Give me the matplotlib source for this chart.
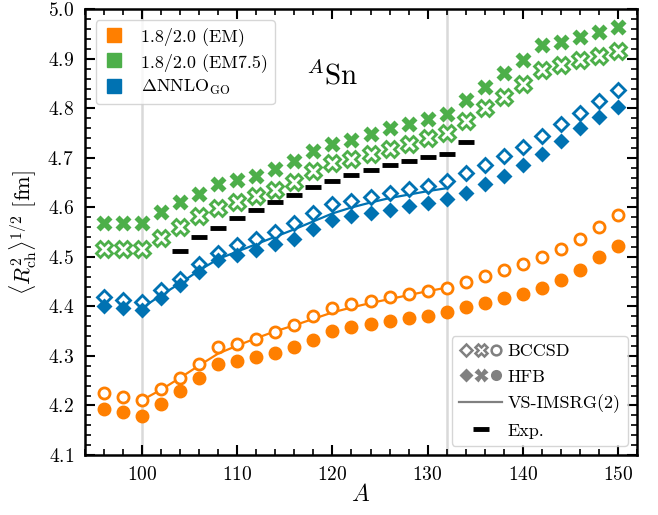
import matplotlib
matplotlib.use("Agg")
from matplotlib import pyplot as plt
from matplotlib.lines import Line2D
from matplotlib.legend_handler import HandlerTuple
from matplotlib.ticker import MultipleLocator

plt.rcParams['font.family'] = 'cmr10'
plt.rcParams['mathtext.fontset'] = 'cm'
plt.rcParams['axes.formatter.use_mathtext'] = True

A = [96, 98, 100, 102, 104, 106, 108, 110, 112, 114, 116, 118, 120, 122,
     124, 126, 128, 130, 132, 134, 136, 138, 140, 142, 144, 146, 148, 150]

em_bccsd = [4.225, 4.218, 4.211, 4.233, 4.256, 4.283, 4.318, 4.324, 4.334, 4.348,
            4.362, 4.380, 4.396, 4.405, 4.412, 4.420, 4.425, 4.431, 4.438, 4.449,
            4.462, 4.474, 4.486, 4.500, 4.516, 4.536, 4.560, 4.584]
em_hfb = [4.193, 4.186, 4.179, 4.204, 4.229, 4.255, 4.284, 4.290, 4.298, 4.307,
          4.318, 4.333, 4.350, 4.359, 4.365, 4.371, 4.376, 4.381, 4.388, 4.398,
          4.407, 4.417, 4.426, 4.438, 4.453, 4.474, 4.499, 4.523]
em75_bccsd = [4.516, 4.516, 4.516, 4.538, 4.561, 4.583, 4.598, 4.612, 4.623, 4.636,
              4.652, 4.674, 4.690, 4.698, 4.709, 4.719, 4.729, 4.740, 4.750, 4.775,
              4.800, 4.824, 4.850, 4.878, 4.887, 4.898, 4.906, 4.917]
em75_hfb = [4.568, 4.568, 4.568, 4.590, 4.611, 4.628, 4.647, 4.655, 4.664, 4.677,
            4.693, 4.714, 4.729, 4.737, 4.749, 4.760, 4.769, 4.778, 4.788, 4.817,
            4.843, 4.871, 4.898, 4.928, 4.935, 4.945, 4.955, 4.965]
go_bccsd = [4.419, 4.413, 4.410, 4.433, 4.456, 4.485, 4.509, 4.524, 4.536, 4.551,
            4.568, 4.588, 4.607, 4.614, 4.622, 4.629, 4.637, 4.643, 4.653, 4.670,
            4.686, 4.703, 4.722, 4.745, 4.768, 4.790, 4.815, 4.837]
go_hfb = [4.402, 4.396, 4.393, 4.418, 4.443, 4.469, 4.494, 4.504, 4.514, 4.526,
          4.537, 4.556, 4.574, 4.582, 4.588, 4.595, 4.603, 4.610, 4.617, 4.630,
          4.647, 4.664, 4.686, 4.708, 4.735, 4.760, 4.782, 4.802]

A_vs = [100, 102, 104, 106, 108, 110, 112, 114, 116, 118, 120, 122, 124, 126, 128, 130, 132]
em_vs = [4.211, 4.232, 4.256, 4.281, 4.305, 4.321, 4.336, 4.350, 4.362, 4.375,
         4.388, 4.398, 4.407, 4.415, 4.423, 4.431, 4.438]
go_vs = [4.397, 4.423, 4.447, 4.473, 4.496, 4.511, 4.526, 4.541, 4.556, 4.572,
         4.588, 4.600, 4.610, 4.619, 4.626, 4.633, 4.639]

A_exp = [104, 106, 108, 110, 112, 114, 116, 118, 120, 122, 124, 126, 128, 130, 132, 134]
exp = [4.513, 4.540, 4.559, 4.578, 4.594, 4.611, 4.626, 4.642, 4.654, 4.665,
       4.676, 4.685, 4.694, 4.701, 4.709, 4.732]

c_em = '#ff7f00'
c_em75 = '#4daf4a'
c_go = '#0072b2'
grey = '#808080'

fig = plt.figure(figsize=(6.58, 5.15), dpi=100)
ax = fig.add_axes([0.1292, 0.1165, 0.8389, 0.8651])

ax.axvline(100, color='#d9d9d9', lw=1.8, zorder=0)
ax.axvline(132, color='#d9d9d9', lw=1.8, zorder=0)

ms = 8
mew = 2
ax.plot(A_vs, em_vs, '-', color=c_em, lw=1.6, zorder=2)
ax.plot(A_vs, go_vs, '-', color=c_go, lw=1.6, zorder=2)

ax.plot(A, em_bccsd, 'o', ls='none', ms=ms, mfc='white', mec=c_em, mew=mew, zorder=3)
ax.plot(A, em_hfb, 'o', ls='none', ms=ms + 1, color=c_em, zorder=4)
ax.plot(A, em75_bccsd, 'X', ls='none', ms=ms + 3, mfc='white', mec=c_em75, mew=mew, zorder=3)
ax.plot(A, em75_hfb, 'X', ls='none', ms=ms + 4, color=c_em75, mec='none', zorder=4)
ax.plot(A, go_bccsd, 'D', ls='none', ms=ms - 1, mfc='white', mec=c_go, mew=mew, zorder=3)
ax.plot(A, go_hfb, 'D', ls='none', ms=ms, color=c_go, mec='none', zorder=4)

ax.plot(A_exp, exp, '_', ls='none', color='black', ms=12, mew=3.5, zorder=5)

ax.set_xlim(94, 152)
ax.set_ylim(4.1, 5.0)
ax.xaxis.set_major_locator(MultipleLocator(10))
ax.xaxis.set_minor_locator(MultipleLocator(2))
ax.yaxis.set_major_locator(MultipleLocator(0.1))
ax.yaxis.set_minor_locator(MultipleLocator(0.02))
ax.tick_params(which='both', direction='in', top=True, right=True, labelsize=14)
ax.tick_params(which='major', length=7, width=1.5, pad=8)
ax.tick_params(which='minor', length=4, width=1.2)
for sp in ax.spines.values():
    sp.set_linewidth(1.8)

ax.set_xlabel(r'$A$', fontsize=17, labelpad=0)
ax.set_ylabel(r'$\langle R^2_{\rm ch}\rangle^{1/2}$ [fm]', fontsize=16, labelpad=6)

ax.text(117.2, 4.866, r'$^{A}\mathrm{Sn}$', fontsize=21, ha='left', va='center')

h1 = [Line2D([], [], marker='s', ls='none', color=c, ms=10) for c in (c_em, c_em75, c_go)]
leg1 = ax.legend(h1, ['1.8/2.0 (EM)', '1.8/2.0 (EM7.5)', r'$\Delta$NNLO$_{\rm GO}$'],
                 loc='upper left', fontsize=13, handlelength=1.2, handletextpad=0.9,
                 borderaxespad=0.6, labelspacing=0.35, framealpha=0.8)
ax.add_artist(leg1)

op = dict(ls='none', mfc='white', mec=grey, mew=1.8)
fl = dict(ls='none', color=grey, mec='none')
bcc = (Line2D([], [], marker='D', ms=6, **op),
       Line2D([], [], marker='X', ms=9, **op),
       Line2D([], [], marker='o', ms=7, **op))
hfb = (Line2D([], [], marker='D', ms=7, **fl),
       Line2D([], [], marker='X', ms=10, **fl),
       Line2D([], [], marker='o', ms=8, **fl))
vs = Line2D([], [], color=grey, lw=1.6)
ex = Line2D([], [], marker='_', ls='none', color='black', ms=12, mew=3.5)
ax.legend([bcc, hfb, vs, ex], ['BCCSD', 'HFB', 'VS-IMSRG(2)', 'Exp.'],
          handler_map={tuple: HandlerTuple(ndivide=None, pad=0.1)},
          loc='lower right', fontsize=13, handlelength=2.4, handletextpad=0.3,
          borderaxespad=0.5, labelspacing=0.55, framealpha=0.8)

fig.savefig('out.png', dpi=100)
